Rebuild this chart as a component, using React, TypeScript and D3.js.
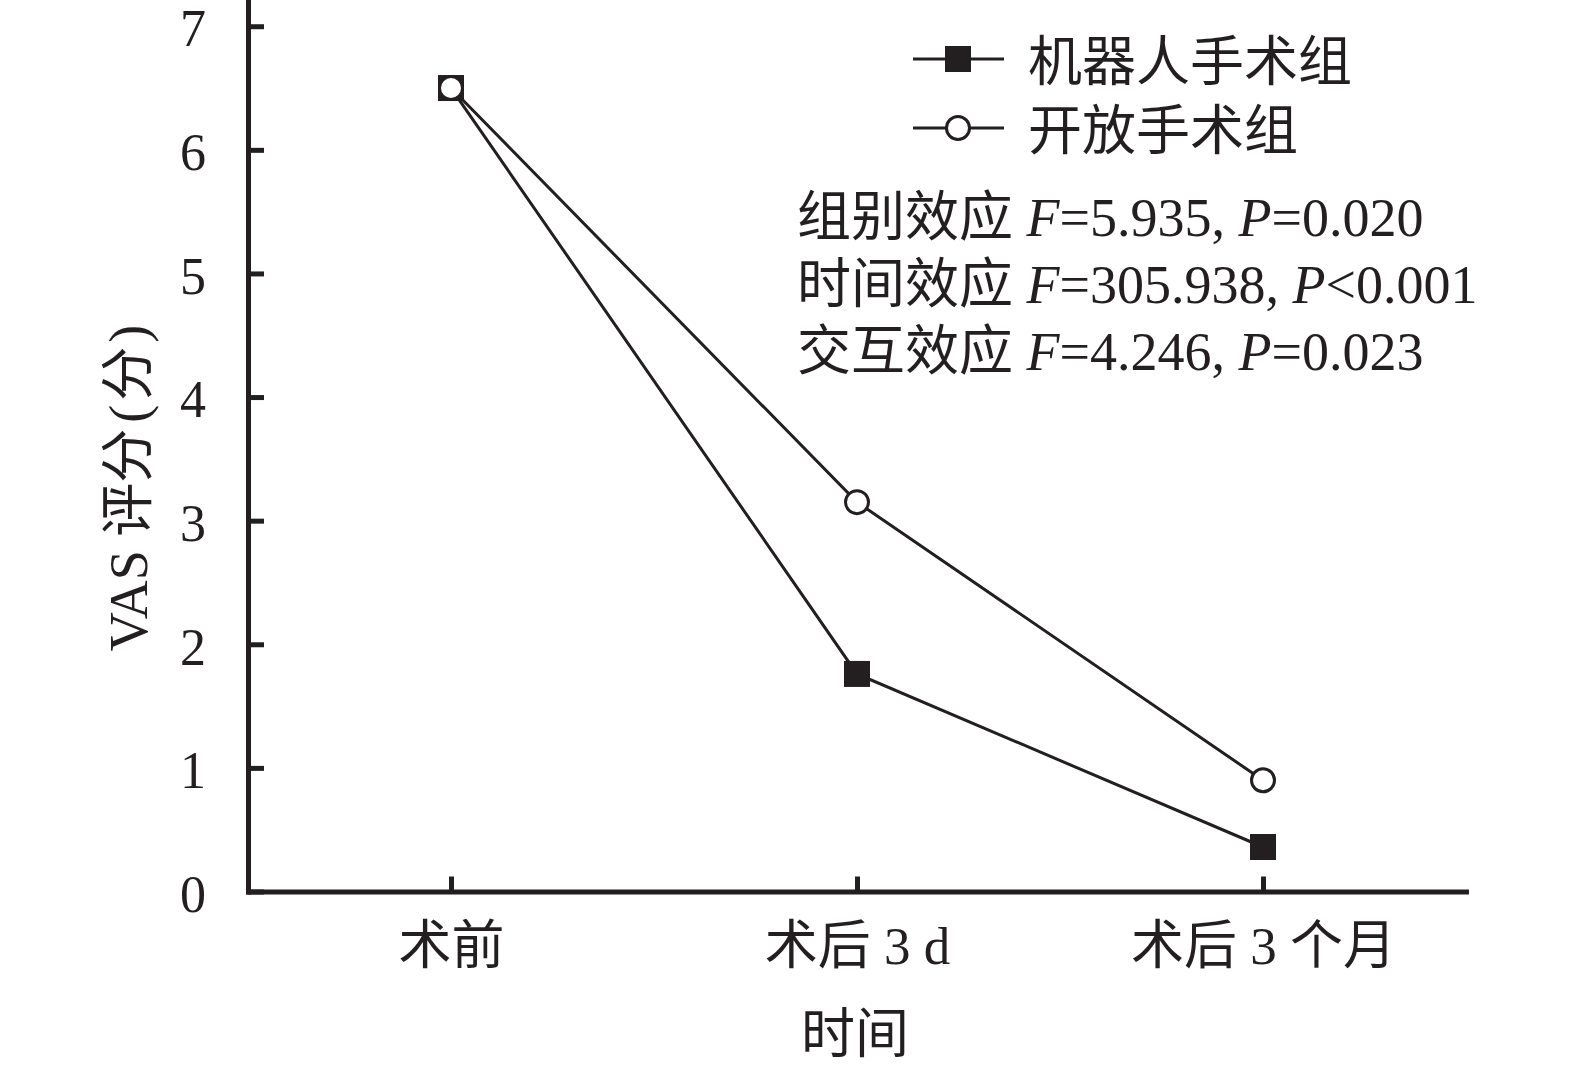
import * as d3 from 'd3'
import { useEffect, useRef } from 'react'

// values
const timePoints = ['术前', '术后 3 d', '术后 3 个月']
const robotScores = [6.5, 1.76, 0.36]
const openScores = [6.5, 3.15, 0.9]
const yTicks = [0, 1, 2, 3, 4, 5, 6, 7]
const seriesNames = ['机器人手术组', '开放手术组']
const statLabels = ['组别效应', '时间效应', '交互效应']
const statF = ['5.935', '305.938', '4.246']
const statP = ['=0.020', '<0.001', '=0.023']

const ink = '#231f20'
const latin = "'Liberation Serif', serif"
const fontFamily = "'Liberation Serif', 'Noto Sans CJK SC', serif"
const cjk = "'Noto Sans CJK SC', sans-serif"

export default function App() {
  const ref = useRef<HTMLDivElement | null>(null)

  useEffect(() => {
    document.body.style.margin = '0'
    const width = 1575
    const height = 1070
    const axisX = 248
    const axisY = 891.5

    const x = d3
      .scalePoint<string>()
      .domain(timePoints)
      .range([axisX, 1466])
      .padding(0.5)

    const y = d3.scaleLinear().domain([0, 7.2]).range([axisY, 1.5])

    const svg = d3
      .create('svg')
      .attr('width', width)
      .attr('height', height)
      .attr('viewBox', [0, 0, width, height])
      .style('display', 'block')
      .style('background', '#fff')
      .attr('font-family', fontFamily)
      .attr('fill', ink)

    // Y axis (ticks point inward)
    const yAxis = svg
      .append('g')
      .attr('transform', `translate(${axisX},0)`)
      .call(
        d3
          .axisLeft(y)
          .tickValues(yTicks)
          .tickFormat(d3.format('d'))
          .tickSizeInner(-16)
          .tickSizeOuter(0)
          .tickPadding(42)
      )
    yAxis.select('.domain').attr('stroke', ink).attr('stroke-width', 5).attr('stroke-linecap', 'square')
    yAxis.selectAll('.tick line').attr('stroke', ink).attr('stroke-width', 5)
    yAxis
      .selectAll('.tick text')
      .attr('fill', ink)
      .attr('font-size', 52)
      .attr('font-family', latin)
      .attr('dy', '0.38em')

    // X axis
    const xAxis = svg
      .append('g')
      .attr('transform', `translate(0,${axisY})`)
      .call(d3.axisBottom(x).tickSizeInner(-15).tickSizeOuter(0).tickPadding(35))
    xAxis.select('.domain').attr('stroke', ink).attr('stroke-width', 5).attr('stroke-linecap', 'square')
    xAxis.selectAll('.tick line').attr('stroke', ink).attr('stroke-width', 5)
    xAxis
      .selectAll('.tick text')
      .attr('fill', ink)
      .attr('font-size', 53)
      .attr('font-family', fontFamily)
      .attr('dy', '0.71em')

    // axis titles
    svg
      .append('text')
      .attr('x', 855)
      .attr('y', 1053)
      .attr('text-anchor', 'middle')
      .attr('font-size', 54)
      .attr('font-family', cjk)
      .text('时间')

    const yTitle = svg
      .append('text')
      .attr('transform', 'translate(147,488) rotate(-90)')
      .attr('text-anchor', 'middle')
      .attr('font-size', 54)
    yTitle.append('tspan').attr('font-family', latin).text('VAS ')
    yTitle.append('tspan').attr('font-family', cjk).text('评分')
    yTitle.append('tspan').attr('font-family', latin).attr('dx', 6).text('(')
    yTitle.append('tspan').attr('font-family', cjk).attr('dx', 4).text('分')
    yTitle.append('tspan').attr('font-family', latin).attr('dx', 4).text(')')

    const line = d3
      .line<number>()
      .x((_, i) => x(timePoints[i])!)
      .y((d) => y(d))

    const series = [
      { name: seriesNames[0], values: robotScores, marker: 'square' },
      { name: seriesNames[1], values: openScores, marker: 'circle' },
    ]

    const drawMarker = (
      g: d3.Selection<SVGGElement, unknown, null, undefined>,
      kind: string,
      cx: number,
      cy: number
    ) => {
      if (kind === 'square') {
        g.append('rect')
          .attr('x', cx - 13)
          .attr('y', cy - 13)
          .attr('width', 26)
          .attr('height', 26)
          .attr('fill', ink)
      } else {
        g.append('circle')
          .attr('cx', cx)
          .attr('cy', cy)
          .attr('r', 11.5)
          .attr('fill', '#fff')
          .attr('stroke', ink)
          .attr('stroke-width', 3)
      }
    }

    series.forEach((s) => {
      const g = svg.append('g')
      g.append('path')
        .attr('d', line(s.values))
        .attr('fill', 'none')
        .attr('stroke', ink)
        .attr('stroke-width', 3)
      s.values.forEach((v, i) => drawMarker(g, s.marker, x(timePoints[i])!, y(v)))
    })

    // legend
    const legend = svg.append('g')
    series.forEach((s, i) => {
      const ly = 59 + i * 69
      legend
        .append('line')
        .attr('x1', 913)
        .attr('x2', 1004)
        .attr('y1', ly)
        .attr('y2', ly)
        .attr('stroke', ink)
        .attr('stroke-width', 3)
      drawMarker(legend, s.marker, 958, ly)
      legend
        .append('text')
        .attr('x', 1028)
        .attr('y', ly + 22)
        .attr('font-size', 54)
        .attr('font-family', cjk)
        .text(s.name)
    })

    // statistics
    statLabels.forEach((label, i) => {
      const t = svg
        .append('text')
        .attr('x', 797)
        .attr('y', 236 + i * 67)
        .attr('font-size', 54)
      t.append('tspan').attr('font-family', cjk).text(label)
      t.append('tspan').attr('font-family', latin).text(' ')
      t.append('tspan').attr('font-family', latin).attr('font-style', 'italic').text('F')
      t.append('tspan').attr('font-family', latin).text('=' + statF[i] + ', ')
      t.append('tspan').attr('font-family', latin).attr('font-style', 'italic').text('P')
      t.append('tspan').attr('font-family', latin).text(statP[i])
    })

    if (ref.current) {
      ref.current.innerHTML = ''
      ref.current.appendChild(svg.node()!)
    }
  }, [])

  return <div ref={ref} style={{ width: 1575, height: 1070 }} />
}
